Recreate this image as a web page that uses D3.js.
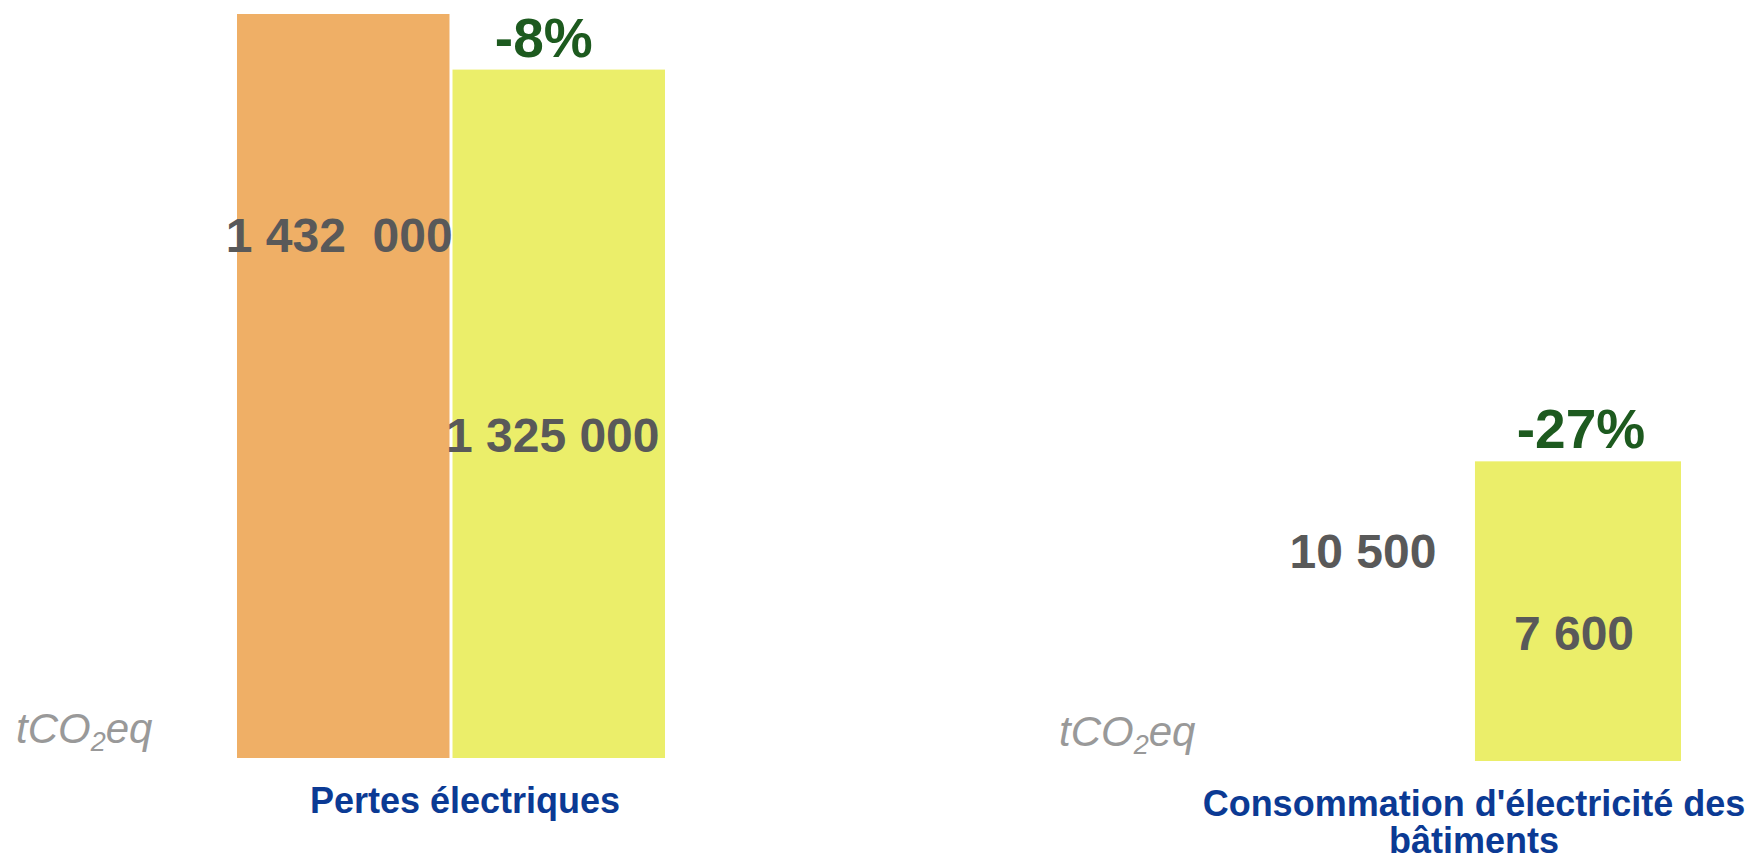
<!DOCTYPE html>
<html>
<head>
<meta charset="utf-8">
<script src="https://cdn.jsdelivr.net/npm/d3@7"></script>
<style>
  body { margin: 0; background: #fff; }
  text { font-family: "Liberation Sans", Arial, sans-serif; }
</style>
</head>
<body>
<script>
// data
const categories = ["Pertes électriques", "Consommation d'électricité des bâtiments"];
const categoryLines = [["Pertes électriques"], ["Consommation d'électricité des", "bâtiments"]];
const series = ["avant", "après"];
const valuesBefore = [1432000, 10500];
const valuesAfter = [1325000, 7600];
const valueLabelsBefore = ["1 432  000", "10 500"];
const valueLabelsAfter = ["1 325 000", "7 600"];
const changeLabels = ["-8%", "-27%"];
const unitLabel = ["tCO", "2", "eq"];

const colors = { avant: "#EFAF66", "après": "#EBEE6A" };

// one panel per category
const panels = [
  { x0: 237, x1: 665, base: 758, top: 14, unitX: 16, titleX: 465, titleY: 813, beforeVisible: true,
    labelFrac: [0.68, 0.445], labelDx: [-4, -6], changeDx: -15 },
  { x0: 1266, x1: 1681, base: 761, top: 347, unitX: 1059, titleX: 1474, titleY: 816, beforeVisible: false,
    labelFrac: [0.466, 0.37], labelDx: [-6, -4], changeDx: 3 }
];

const width = 1752, height = 860;

const svg = d3.select("body").append("svg")
    .attr("width", width)
    .attr("height", height);

categories.forEach((cat, i) => {
  const p = panels[i];
  const vals = [valuesBefore[i], valuesAfter[i]];
  const labels = [valueLabelsBefore[i], valueLabelsAfter[i]];

  const x = d3.scaleBand().domain(series).range([p.x0, p.x1]).paddingInner(0.014);
  const y = d3.scaleLinear().domain([0, d3.max(vals)]).range([p.base, p.top]);

  const g = svg.append("g").attr("class", "panel");

  // bars
  g.selectAll(".bar")
    .data(series)
    .enter().append("rect")
      .attr("class", "bar")
      .attr("x", (s) => x(s))
      .attr("width", x.bandwidth())
      .attr("y", (s, j) => y(vals[j]))
      .attr("height", (s, j) => y(0) - y(vals[j]))
      .attr("fill", (s, j) => (j === 0 && !p.beforeVisible) ? "#fff" : colors[s]);

  // value labels
  g.selectAll(".val")
    .data(series)
    .enter().append("text")
      .attr("class", "val")
      .attr("text-anchor", "middle")
      .attr("x", (s, j) => x(s) + x.bandwidth() / 2 + p.labelDx[j])
      .attr("y", (s, j) => y(vals[j] * p.labelFrac[j]))
      .style("white-space", "pre")
      .attr("font-size", 48)
      .attr("font-weight", "bold")
      .attr("fill", "#595959")
      .text((s, j) => labels[j]);

  // change label above the second bar
  g.append("text")
    .attr("text-anchor", "middle")
    .attr("x", x(series[1]) + x.bandwidth() / 2 + p.changeDx)
    .attr("y", y(vals[1]) - 13)
    .attr("font-size", 55)
    .attr("font-weight", "bold")
    .attr("fill", "#1D5A1F")
    .text(changeLabels[i]);

  // unit
  const unit = g.append("text")
    .attr("x", p.unitX)
    .attr("y", p.base - 15)
    .attr("font-size", 42)
    .attr("font-style", "italic")
    .attr("fill", "#999999");
  unit.append("tspan").text(unitLabel[0]);
  unit.append("tspan").attr("font-size", 27).attr("dy", 8).text(unitLabel[1]);
  unit.append("tspan").attr("dy", -8).text(unitLabel[2]);

  // category title
  g.selectAll(".cat")
    .data(categoryLines[i])
    .enter().append("text")
      .attr("class", "cat")
      .attr("text-anchor", "middle")
      .attr("x", p.titleX)
      .attr("y", (d, k) => p.titleY + k * 37)
      .attr("font-size", 36)
      .attr("font-weight", "bold")
      .attr("fill", "#0B3A94")
      .text((d) => d);
});
</script>
</body>
</html>
